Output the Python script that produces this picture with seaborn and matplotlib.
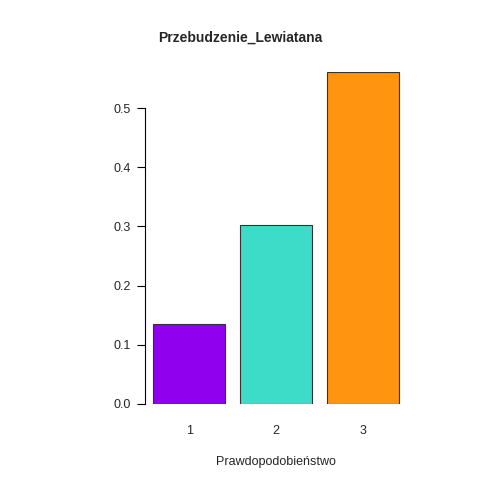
import matplotlib
matplotlib.use("Agg")
import matplotlib.pyplot as plt
import seaborn as sns

categories = ["1", "2", "3"]
values = [0.135, 0.303, 0.561]
colors = ["#9000EE", "#3CDCC8", "#FF9410"]

sns.set_style("white")
plt.rcParams["font.family"] = ["Liberation Sans", "DejaVu Sans"]

fig = plt.figure(figsize=(4.8, 4.8), dpi=100)
ax = fig.add_axes([137 / 480, 76 / 480, 278 / 480, 332 / 480])

sns.barplot(x=categories, y=values, hue=categories, palette=colors, legend=False,
            width=1 / 1.2, edgecolor="#333333", linewidth=0.8, saturation=1, ax=ax)

ax.set_xlim(-0.6, 2.6)
ax.set_ylim(0, 0.561)
for s in ["top", "right", "bottom"]:
    ax.spines[s].set_visible(False)
ax.spines["left"].set_position(("data", -0.507))
ax.spines["left"].set_bounds(0, 0.5)
ax.spines["left"].set_color("black")
ax.spines["left"].set_linewidth(0.8)
ax.set_yticks([0, 0.1, 0.2, 0.3, 0.4, 0.5])
ax.set_yticklabels(["0.0", "0.1", "0.2", "0.3", "0.4", "0.5"])
ax.tick_params(axis="y", length=6, width=0.8, color="black", labelsize=9, pad=4, left=True)
ax.tick_params(axis="x", length=0, labelsize=9, pad=15)
ax.set_xlabel("Prawdopodobieństwo", fontsize=9, labelpad=14)
ax.set_ylabel("")
fig.text(0.5, 1 - 38 / 480, "Przebudzenie_Lewiatana", ha="center", va="center",
         fontsize=10, fontweight="bold")

fig.savefig("out.png", dpi=100)
